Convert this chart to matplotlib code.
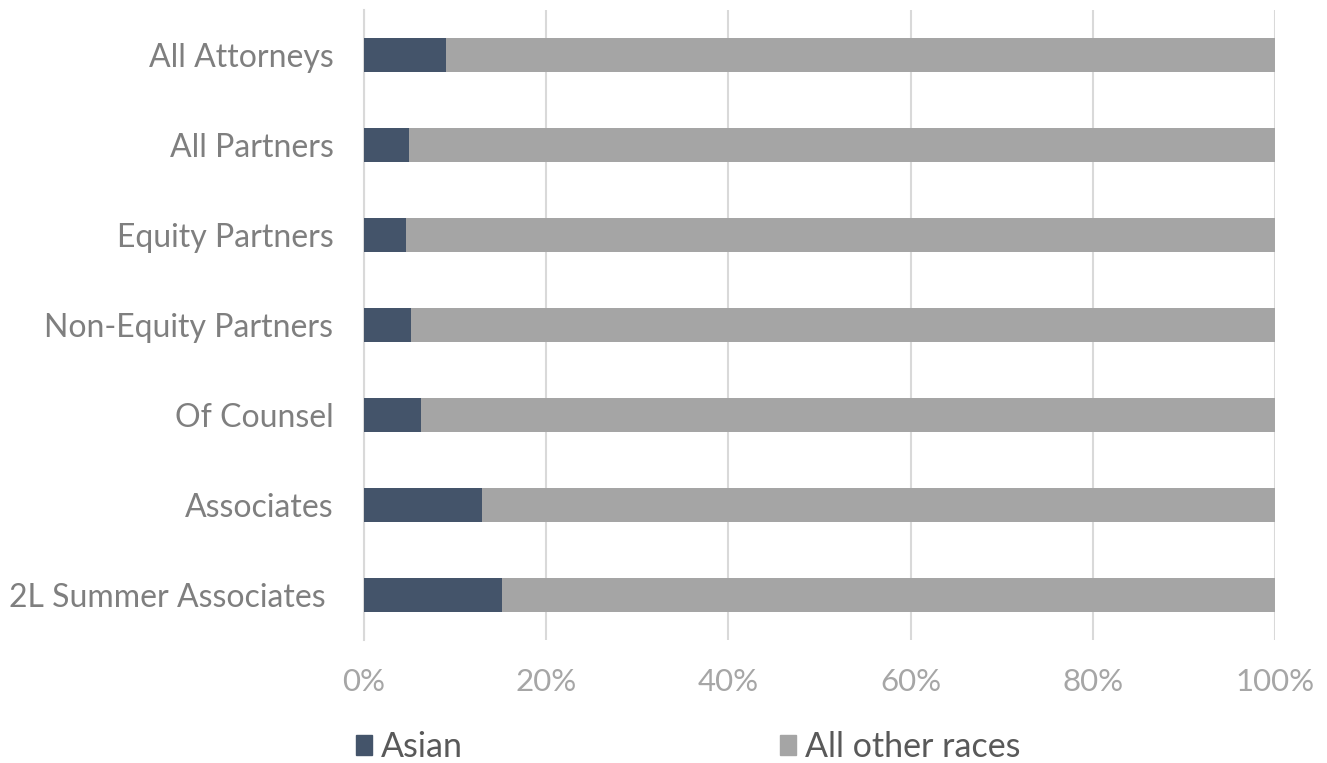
import matplotlib
matplotlib.use("Agg")
import matplotlib.pyplot as plt
from matplotlib.ticker import PercentFormatter
from matplotlib.patches import Patch

plt.rcParams['font.family'] = ['Lato', 'DejaVu Sans']

categories = ["All Attorneys", "All Partners", "Equity Partners", "Non-Equity Partners",
              "Of Counsel", "Associates", "2L Summer Associates "]
asian = [9.0, 4.9, 4.6, 5.2, 6.3, 13.0, 15.2]
other = [100 - v for v in asian]
xticks = [0, 20, 40, 60, 80, 100]

c_asian = "#44546a"
c_other = "#a5a5a5"

W, H = 1327, 763
fig = plt.figure(figsize=(W / 100, H / 100), dpi=100)
ax = fig.add_axes([364 / W, 1 - 640 / H, (1275 - 364) / W, 630 / H])

y = list(range(len(categories)))
ax.barh(y, asian, height=0.38, color=c_asian, zorder=3)
ax.barh(y, other, left=asian, height=0.38, color=c_other, zorder=3)

ax.set_ylim(len(categories) - 0.5, -0.5)
ax.set_xlim(0, 100)
ax.set_yticks(y)
ax.set_yticklabels(categories, fontsize=23, color="#7f7f7f")
ax.set_xticks(xticks)
ax.xaxis.set_major_formatter(PercentFormatter(decimals=0))
ax.tick_params(axis='x', labelsize=22.5, labelcolor="#a6a6a6", length=0, pad=20)
ax.tick_params(axis='y', length=0, pad=22)

ax.grid(axis='x', color="#d9d9d9", linewidth=1.5, zorder=0)
for s in ["top", "right", "bottom"]:
    ax.spines[s].set_visible(False)
ax.spines["left"].set_color("#d9d9d9")
ax.spines["left"].set_linewidth(1.5)
ax.spines["left"].set_zorder(1)

# two legend entries, each anchored at its own marker position
entries = [(c_asian, "Asian", 356), (c_other, "All other races", 780)]
for color, label, xpix in entries:
    leg = fig.legend(handles=[Patch(color=color, label=label)], loc="center left",
                     bbox_to_anchor=(xpix / W, 1 - 747 / H), frameon=False,
                     fontsize=24.5, handlelength=0.47, handleheight=0.53,
                     handletextpad=0.26, borderpad=0, borderaxespad=0)
    for t in leg.get_texts():
        t.set_color("#595959")

fig.savefig("out.png", dpi=100, facecolor="white")
